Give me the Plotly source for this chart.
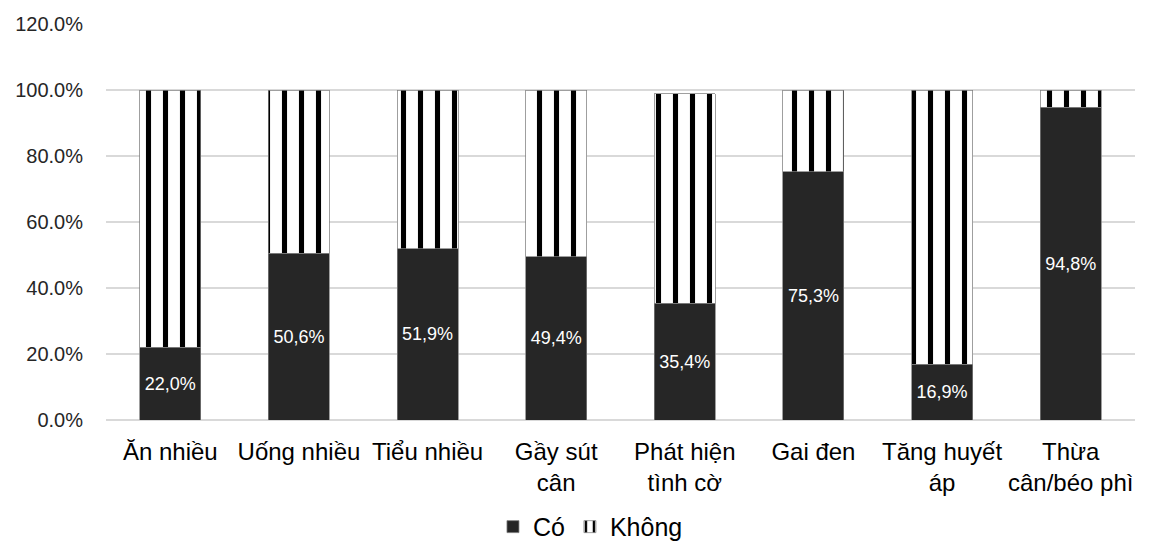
import plotly.graph_objects as go

categories = ["Ăn nhiều", "Uống nhiều", "Tiểu nhiều", "Gầy sút<br>cân",
              "Phát hiện<br>tình cờ", "Gai đen", "Tăng huyết<br>áp", "Thừa<br>cân/béo phì"]
co_values = [22.0, 50.6, 51.9, 49.4, 35.4, 75.3, 16.9, 94.8]
khong_values = [78.0, 49.4, 48.1, 50.6, 63.4, 24.7, 83.1, 5.2]
y_ticks = [0, 20, 40, 60, 80, 100, 120]

FONT = "Liberation Sans, Arial, sans-serif"

co_text = [f"{v:.1f}".replace(".", ",") + "%" for v in co_values]
y_tick_text = [f"{v:.1f}%" for v in y_ticks]

fig = go.Figure()
fig.add_trace(go.Bar(
    name="Có", x=categories, y=co_values,
    marker=dict(color="#262626", line=dict(color="#7f7f7f", width=0.75)),
    text=co_text, textposition="inside", insidetextanchor="middle",
    textfont=dict(color="white", size=18, family=FONT),
    hoverinfo="skip",
))
fig.add_trace(go.Bar(
    name="Không", x=categories, y=khong_values,
    marker=dict(color="white", line=dict(color="#7f7f7f", width=0.75),
                pattern=dict(shape="|", fgcolor="black", bgcolor="white",
                             size=17, solidity=0.3, fillmode="replace")),
    hoverinfo="skip",
))

fig.update_layout(
    barmode="stack",
    bargap=0.525,
    width=1151, height=546,
    margin=dict(l=106, r=16, t=24, b=126, autoexpand=False),
    plot_bgcolor="white", paper_bgcolor="white",
    font=dict(family=FONT, color="#000000"),
    showlegend=True,
    legend=dict(orientation="h", xref="container", yref="container",
                x=0.513, xanchor="center", y=0.035, yanchor="middle",
                traceorder="normal", font=dict(size=25, family=FONT), itemwidth=30),
    xaxis=dict(tickfont=dict(size=24, family=FONT), showgrid=False, ticks="",
               showline=False, automargin=False, ticklabelstandoff=15),
    yaxis=dict(range=[0, 120], tickvals=y_ticks, ticktext=y_tick_text,
               tickfont=dict(size=20, family=FONT, color="#262626"),
               showgrid=True, gridcolor="#d9d9d9", gridwidth=1.5,
               zeroline=True, zerolinecolor="#d9d9d9", zerolinewidth=1.5,
               ticks="", ticklen=0, showline=False, automargin=False,
               ticklabelstandoff=22),
)

fig.write_html("out.html")
